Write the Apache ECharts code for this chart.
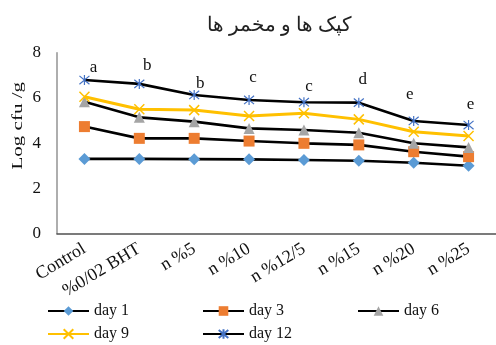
<!DOCTYPE html>
<html>
<head>
<meta charset="utf-8">
<script src="https://cdn.jsdelivr.net/npm/echarts@6/dist/echarts.min.js"></script>
<style>
  html, body { margin: 0; padding: 0; background: #fff; }
  #chart { width: 496px; height: 345px; }
</style>
</head>
<body>
<div id="chart"></div>
<script>
// Treatments along the x axis
const categories = ['Control', '%0/02 BHT', 'n %5', 'n %10', 'n %12/5', 'n %15', 'n %20', 'n %25'];

// Log cfu/g per sampling day
const day1  = [3.30, 3.30, 3.29, 3.28, 3.25, 3.22, 3.13, 3.00];
const day3  = [4.73, 4.21, 4.21, 4.09, 3.99, 3.92, 3.62, 3.40];
const day6  = [5.83, 5.14, 4.95, 4.65, 4.58, 4.46, 3.99, 3.81];
const day9  = [6.05, 5.50, 5.46, 5.20, 5.32, 5.05, 4.50, 4.31];
const day12 = [6.79, 6.62, 6.13, 5.91, 5.81, 5.79, 4.98, 4.80];

// Significance letters shown over the day 12 line
const letters = ['a', 'b', 'b', 'c', 'c', 'd', 'e', 'e'];
// Placement of each letter relative to its point (px)
const letterDx = [9, 8, 6, 4, 5, 4, -4, 2];
const letterDy = [-13, -18, -11, -22, -16, -23, -26, -20];

const yTicks = [0, 2, 4, 6, 8];

const SERIF = '"Liberation Serif", "DejaVu Serif", serif';
const crossPath = 'path://M0,0L10,10M10,0L0,10';
const starPath = 'path://M0,0L10,10M10,0L0,10M5,-1L5,11';

const chart = echarts.init(document.getElementById('chart'));

const day12Data = day12.map((v, i) => ({
  value: v,
  label: {
    show: true,
    formatter: letters[i],
    position: 'inside',
    offset: [letterDx[i], letterDy[i]]
  }
}));

function lineSeries(name, data, symbol, size, markerColor, lineColor, extra) {
  return Object.assign({
    name: name,
    type: 'line',
    data: data,
    symbol: symbol,
    symbolSize: size,
    showAllSymbol: true,
    lineStyle: { color: lineColor, width: 2.6 },
    itemStyle: { color: markerColor },
    emphasis: { disabled: true },
    animation: false
  }, extra || {});
}

const legendCommon = {
  orient: 'vertical',
  height: 44,
  padding: 0,
  itemWidth: 41,
  itemHeight: 12,
  itemGap: 7,
  textStyle: { fontFamily: SERIF, fontSize: 16, lineHeight: 16, color: '#111' },
  selectedMode: false
};

chart.setOption({
  backgroundColor: '#ffffff',
  animation: false,
  title: {
    text: 'کپک ها و مخمر ها',
    left: 274,
    top: 11,
    textAlign: 'center',
    textStyle: { fontFamily: SERIF, fontSize: 20, fontWeight: 'normal', color: '#222' }
  },
  graphic: [{
    type: 'text',
    left: 10,
    top: 82,
    rotation: Math.PI / 2,
    scaleY: 0.72,
    style: {
      text: 'Log cfu /g',
      font: '21px ' + SERIF,
      fill: '#111'
    }
  }],
  legend: [
    Object.assign({ left: 47, top: 303, data: ['day 1', 'day 9'] }, legendCommon),
    Object.assign({ left: 202, top: 303, data: ['day 3', 'day 12'] }, legendCommon),
    Object.assign({ left: 357, top: 303, data: ['day 6'] }, legendCommon)
  ],
  grid: { left: 57, top: 52.7, width: 444, bottom: 111.5, containLabel: false },
  xAxis: {
    type: 'category',
    data: categories,
    boundaryGap: true,
    axisLine: { show: true, lineStyle: { color: '#505050', width: 1.6 } },
    axisTick: { show: false },
    axisLabel: {
      interval: 0,
      rotate: 31,
      margin: 14,
      fontFamily: SERIF,
      fontSize: 18,
      color: '#111'
    },
    splitLine: { show: false }
  },
  yAxis: {
    type: 'value',
    min: yTicks[0],
    max: yTicks[yTicks.length - 1],
    interval: 2,
    axisLine: { show: true, lineStyle: { color: '#9a9a9a', width: 1.6 } },
    axisTick: { show: false },
    splitLine: { show: false },
    axisLabel: { margin: 16, fontFamily: SERIF, fontSize: 17, color: '#111' }
  },
  series: [
    lineSeries('day 1', day1, 'diamond', 12, '#5B9BD5', '#000'),
    lineSeries('day 3', day3, 'rect', 11, '#ED7D31', '#000'),
    lineSeries('day 6', day6, 'triangle', 11, '#A5A5A5', '#000'),
    lineSeries('day 9', day9, crossPath, 10, '#FFC000', '#FFC000', {
      lineStyle: { color: '#FFC000', width: 3 },
      itemStyle: { color: '#FFC000', borderColor: '#FFC000', borderWidth: 1.5 }
    }),
    lineSeries('day 12', day12Data, starPath, 10, '#4472C4', '#000', {
      itemStyle: { color: '#4472C4', borderColor: '#4472C4', borderWidth: 1.2 },
      label: { fontFamily: SERIF, fontSize: 17, color: '#111' }
    })
  ]
});
</script>
</body>
</html>
